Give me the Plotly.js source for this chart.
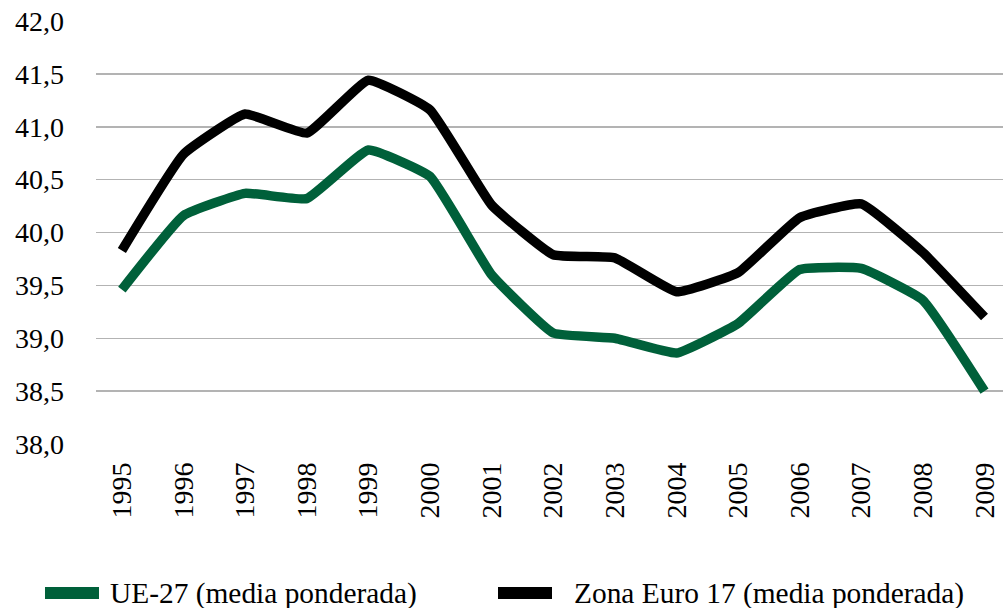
<!DOCTYPE html>
<html>
<head>
<meta charset="utf-8">
<script src="https://cdn.plot.ly/plotly-3.0.1.min.js"></script>
<style>html,body{margin:0;padding:0;background:#fff;}#chart{width:1003px;height:608px;}</style>
</head>
<body>
<div id="chart"></div>
<script>
const years = ["1995","1996","1997","1998","1999","2000","2001","2002","2003","2004","2005","2006","2007","2008","2009"];
const ue27 = [39.46, 40.16, 40.37, 40.32, 40.78, 40.53, 39.60, 39.05, 39.00, 38.86, 39.14, 39.65, 39.66, 39.36, 38.50];
const zonaEuro17 = [39.83, 40.74, 41.12, 40.94, 41.44, 41.16, 40.26, 39.79, 39.76, 39.44, 39.62, 40.14, 40.27, 39.81, 39.20];
const seriesNames = ["UE-27 (media ponderada)", "Zona Euro 17 (media ponderada)"];
const yTicks = [38, 38.5, 39, 39.5, 40, 40.5, 41, 41.5, 42];
const yTickText = ["38,0","38,5","39,0","39,5","40,0","40,5","41,0","41,5","42,0"];

const GREEN = "#00603A", BLACK = "#000000";
const font = {family: "Liberation Serif, DejaVu Serif, Tinos, serif", color: "#000"};

const traces = [
  {x: years, y: ue27, type: "scatter", mode: "lines", name: seriesNames[0],
   line: {color: GREEN, width: 9.5, shape: "spline", smoothing: 0.35}},
  {x: years, y: zonaEuro17, type: "scatter", mode: "lines", name: seriesNames[1],
   line: {color: BLACK, width: 9.5, shape: "spline", smoothing: 0.35}}
];

// custom legend (paper coords relative to plot area: left 96, width 907; bottom 444, height 423)
const legY = -0.35225;
const shapes = [
  {type: "line", xref: "paper", yref: "paper", x0: -0.05623, x1: 0.00331, y0: legY, y1: legY,
   line: {color: GREEN, width: 12}},
  {type: "line", xref: "paper", yref: "paper", x0: 0.44322, x1: 0.50276, y0: legY, y1: legY,
   line: {color: BLACK, width: 12}}
];
const annotations = [
  {xref: "paper", yref: "paper", x: 0.01323, y: legY, xanchor: "left", yanchor: "middle",
   text: seriesNames[0], showarrow: false, font: Object.assign({size: 29.4}, font)},
  {xref: "paper", yref: "paper", x: 0.52481, y: legY, xanchor: "left", yanchor: "middle",
   text: seriesNames[1], showarrow: false, font: Object.assign({size: 29.4}, font)}
];

const layout = {
  width: 1003, height: 608,
  margin: {l: 96, r: 0, t: 21, b: 164},
  paper_bgcolor: "#fff", plot_bgcolor: "#fff",
  font: Object.assign({size: 28}, font),
  showlegend: false,
  shapes: shapes,
  annotations: annotations,
  xaxis: {type: "category", range: [-0.42, 14.3], tickangle: -90, showgrid: false, zeroline: false,
          showline: false, ticks: "", tickfont: Object.assign({size: 28}, font), ticklabelstandoff: 12},
  yaxis: {range: [38, 42], tickvals: yTicks, ticktext: yTickText, showgrid: true, gridcolor: "#b3b3b3",
          gridwidth: 1.5, zeroline: false, showline: false, ticks: "",
          tickfont: Object.assign({size: 28}, font), ticklabelstandoff: 31}
};

Plotly.newPlot("chart", traces, layout, {staticPlot: true, displayModeBar: false});
</script>
</body>
</html>
